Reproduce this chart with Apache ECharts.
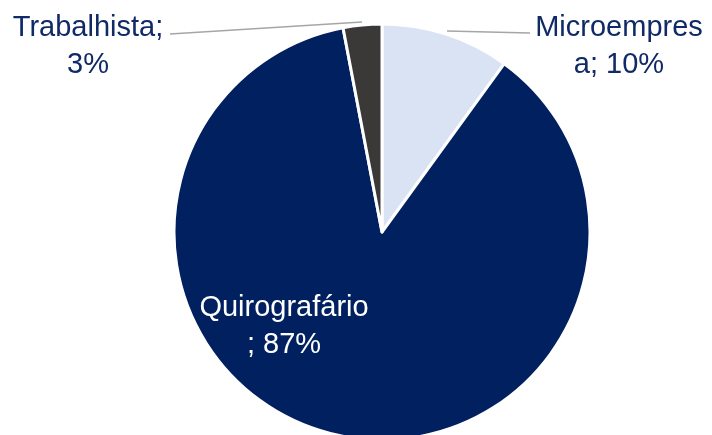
<!DOCTYPE html>
<html>
<head>
<meta charset="utf-8">
<script src="https://cdn.jsdelivr.net/npm/echarts@6/dist/echarts.min.js"></script>
<style>
  html, body { margin: 0; padding: 0; background: #fff; }
  #chart { width: 712px; height: 435px; }
</style>
</head>
<body>
<div id="chart"></div>
<script>
// Creditor classes and their share of the total
const categories = ['Microempresa', 'Quirografário', 'Trabalhista'];
const shares = [10, 87, 3];
const labelTexts = ['Microempres\na; 10%', 'Quirografário\n; 87%', 'Trabalhista;\n3%'];
const sliceColors = ['#dae3f3', '#002060', '#3b3838'];

const chart = echarts.init(document.getElementById('chart'), null, { renderer: 'canvas' });

// Where each label sits and where its leader line runs
const labelSpots = [
  { x: 619, y: 46, color: '#0f2a66', line: [[447, 31], [488, 32], [530, 33]] },
  { x: 284, y: 326, color: '#ffffff', line: null },
  { x: 88, y: 46, color: '#0f2a66', line: [[362, 22], [266, 28], [170, 34]] }
];

const font = '"Liberation Sans", "DejaVu Sans", sans-serif';

chart.setOption({
  animation: false,
  series: [{
    type: 'pie',
    center: [382, 232],
    radius: [0, 208],
    startAngle: 90,
    clockwise: true,
    avoidLabelOverlap: false,
    itemStyle: { borderColor: '#ffffff', borderWidth: 3 },
    label: {
      show: true,
      position: 'outside',
      fontFamily: font,
      fontSize: 29,
      lineHeight: 37,
      align: 'center',
      formatter: p => labelTexts[p.dataIndex]
    },
    labelLine: {
      show: true,
      lineStyle: { color: '#a6a6a6', width: 1.5 }
    },
    labelLayout: params => {
      const s = labelSpots[params.dataIndex];
      const out = { x: s.x, y: s.y, align: 'center', verticalAlign: 'middle' };
      if (s.line) out.labelLinePoints = s.line;
      return out;
    },
    data: categories.map((name, i) => ({
      name: name,
      value: shares[i],
      itemStyle: { color: sliceColors[i] },
      label: { color: labelSpots[i].color },
      labelLine: { show: !!labelSpots[i].line }
    }))
  }]
});
</script>
</body>
</html>
